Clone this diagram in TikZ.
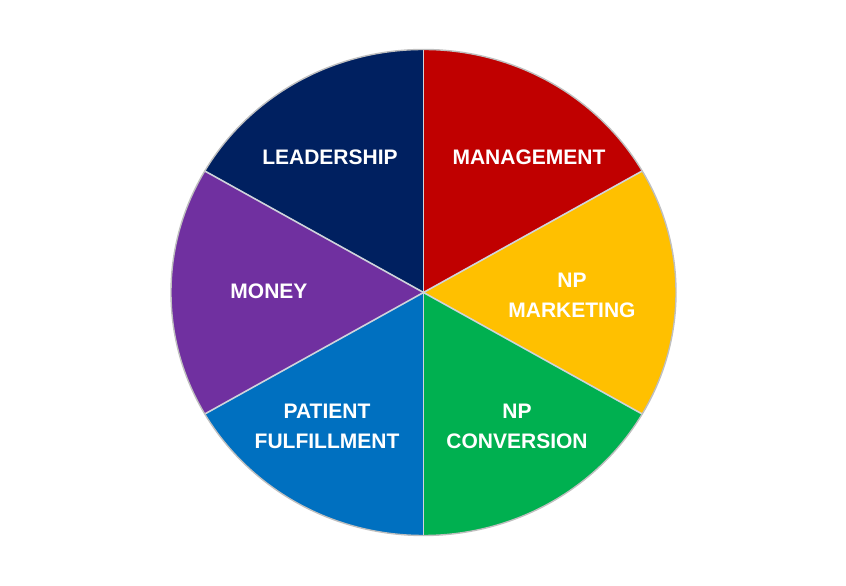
\documentclass[tikz,border=0pt]{standalone}
\usepackage{fontspec}
\setmainfont{Liberation Sans}
\usetikzlibrary{positioning}
\definecolor{ldr}{HTML}{002060}
\definecolor{mgt}{HTML}{C00000}
\definecolor{mkt}{HTML}{FFC000}
\definecolor{cnv}{HTML}{00B050}
\definecolor{ful}{HTML}{0070C0}
\definecolor{mny}{HTML}{7030A0}
\definecolor{rim}{HTML}{BFBFBF}
\definecolor{sep}{HTML}{D0D4DC}
\tikzset{
  lbl/.style={text=white, font=\bfseries\fontsize{21}{30}\selectfont, align=center, inner sep=0pt},
  cut/.style={draw=sep, line width=1.6pt},
  slice/.style={draw=none}}
\begin{document}
\begin{tikzpicture}[x=1pt, y=1pt]
\useasboundingbox (0,0) rectangle (846,586);
\coordinate (c) at (423.5,293.5);
\fill[ldr] (c) -- +(90:252.5 and 243) arc[start angle=90, end angle=150, x radius=252.5, y radius=243] -- cycle;
\fill[mny] (c) -- +(150:252.5 and 243) arc[start angle=150, end angle=210, x radius=252.5, y radius=243] -- cycle;
\fill[ful] (c) -- +(210:252.5 and 243) arc[start angle=210, end angle=270, x radius=252.5, y radius=243] -- cycle;
\fill[cnv] (c) -- +(270:252.5 and 243) arc[start angle=270, end angle=330, x radius=252.5, y radius=243] -- cycle;
\fill[mkt] (c) -- +(330:252.5 and 243) arc[start angle=330, end angle=390, x radius=252.5, y radius=243] -- cycle;
\fill[mgt] (c) -- +(30:252.5 and 243) arc[start angle=30, end angle=90, x radius=252.5, y radius=243] -- cycle;
\draw[cut] (c) -- +(90:252.5 and 243);
\draw[cut] (c) -- +(150:252.5 and 243);
\draw[cut] (c) -- +(210:252.5 and 243);
\draw[cut] (c) -- +(270:252.5 and 243);
\draw[cut] (c) -- +(330:252.5 and 243);
\draw[cut] (c) -- +(30:252.5 and 243);
\draw[rim, line width=1.4pt] (c) ellipse[x radius=252.5, y radius=243];
\node[lbl] (lead) at (330,429) {LEADERSHIP};
\node[lbl] (mana) at (529,429) {MANAGEMENT};
\node[lbl] (mone) at (269,295) {MONEY};
\node[lbl] (mark) at (572,290.5) {NP\\MARKETING};
\node[lbl] (pati) at (327,160) {PATIENT\\FULFILLMENT};
\node[lbl] (conv) at (517,160) {NP\\CONVERSION};
\end{tikzpicture}
\end{document}
